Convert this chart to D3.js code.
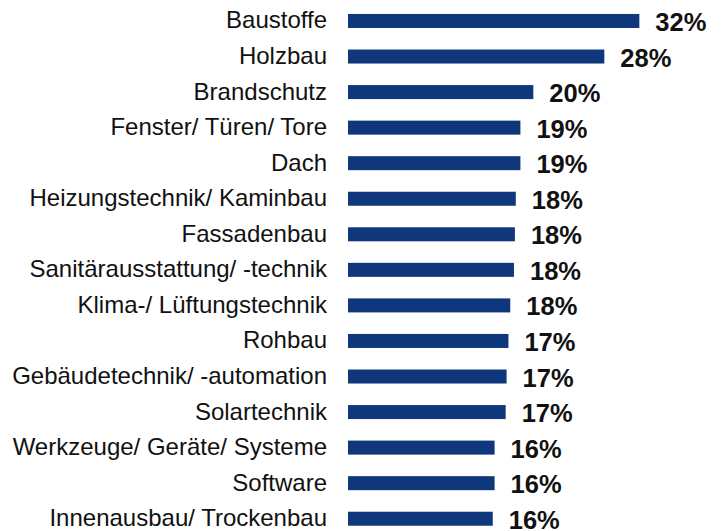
<!DOCTYPE html>
<html>
<head>
<meta charset="utf-8">
<script src="https://cdn.jsdelivr.net/npm/d3@7"></script>
<style>
  html, body { margin: 0; padding: 0; background: #fff; }
  svg { display: block; }
</style>
</head>
<body>
<div id="chart"></div>
<script>
// Categories, top to bottom
const categories = [
  "Baustoffe",
  "Holzbau",
  "Brandschutz",
  "Fenster/ Türen/ Tore",
  "Dach",
  "Heizungstechnik/ Kaminbau",
  "Fassadenbau",
  "Sanitärausstattung/ -technik",
  "Klima-/ Lüftungstechnik",
  "Rohbau",
  "Gebäudetechnik/ -automation",
  "Solartechnik",
  "Werkzeuge/ Geräte/ Systeme",
  "Software",
  "Innenausbau/ Trockenbau"
];

// Share of respondents, in percent
const shares = [31.6, 27.8, 20.1, 18.7, 18.7, 18.2, 18.1, 18.0, 17.6, 17.4, 17.2, 17.1, 15.9, 15.9, 15.7];

const width = 726, height = 531;
const barColor = "#0F377B";
const font = "'Liberation Sans', Arial, Helvetica, sans-serif";

const data = categories.map((c, i) => ({ category: c, value: shares[i] }));

const svg = d3.select("#chart").append("svg")
  .attr("width", width)
  .attr("height", height);

const x = d3.scaleLinear()
  .domain([0, 100])
  .range([348, 348 + 922]);

const y = d3.scaleBand()
  .domain(categories)
  .range([3.2, 536.5])
  .paddingInner(0.606)
  .paddingOuter(0.303);

const mid = d => y(d) + y.bandwidth() / 2;

// Bars
svg.append("g")
  .selectAll("rect")
  .data(data)
  .join("rect")
  .attr("x", x(0))
  .attr("y", d => y(d.category))
  .attr("width", d => x(d.value) - x(0))
  .attr("height", y.bandwidth())
  .attr("fill", barColor);

// Category labels on the left
const yAxis = d3.axisLeft(y).tickSize(0).tickPadding(0);
const axisG = svg.append("g")
  .attr("transform", "translate(327,0)")
  .call(yAxis);
axisG.select(".domain").remove();
axisG.selectAll("text")
  .attr("x", 0)
  .attr("dy", null)
  .attr("y", 7.5)
  .attr("fill", "#111")
  .style("font-family", font)
  .style("font-size", "24px")
  .attr("text-anchor", "end");

// Value labels after each bar
svg.append("g")
  .selectAll("text")
  .data(data)
  .join("text")
  .attr("x", d => x(d.value) + 16)
  .attr("y", d => mid(d.category) + 10)
  .attr("fill", "#111")
  .style("font-family", font)
  .style("font-size", "25.5px")
  .style("font-weight", "bold")
  .text(d => d3.format(".0f")(d.value) + "%");
</script>
</body>
</html>
